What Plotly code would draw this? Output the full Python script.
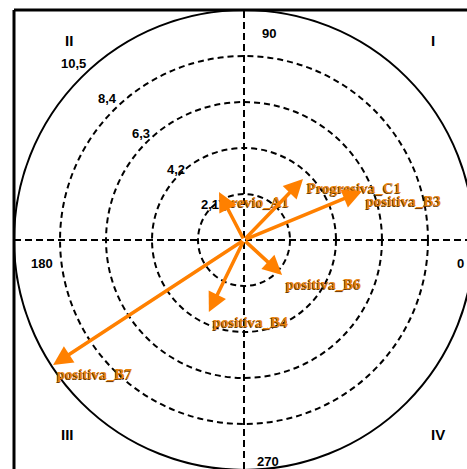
import numpy as np
import plotly.graph_objects as go

# Vector data: magnitude and direction (degrees, counter-clockwise from 0)
vector_names = ["previo_A1", "Progresiva_C1", "positiva_B3", "positiva_B6", "positiva_B4", "positiva_B7"]
vector_magnitudes = [2.47, 3.88, 5.83, 2.36, 3.66, 10.42]
vector_angles = [117.5, 46.0, 22.5, 317.4, 244.0, 213.2]

# Radial rings and their labels
ring_values = [2.1, 4.2, 6.3, 8.4, 10.5]
ring_labels = ["2,1", "4,2", "6,3", "8,4", "10,5"]

# Direction and quadrant labels
angle_labels = ["0", "90", "180", "270"]
quadrant_labels = ["I", "II", "III", "IV"]

W, H = 467, 469
L, T = 14, 10
CX, CY = 244, 240          # pixel position of the pole
SCALE = 21.9               # pixels per unit

x_range = [-(CX - L) / SCALE, (W - CX) / SCALE]
y_range = [-(H - CY) / SCALE, (CY - T) / SCALE]

ORANGE = "#FF8000"
TEXT_ORANGE = "#E8820C"

fig = go.Figure()
fig.add_trace(go.Scatter(x=[0], y=[0], mode="markers", marker=dict(opacity=0), hoverinfo="skip", showlegend=False))

shapes = []
# dashed axes through the pole
shapes.append(dict(type="line", xref="x", yref="y", x0=x_range[0], x1=x_range[1], y0=0, y1=0,
                   line=dict(color="black", width=2, dash="7px,4px"), layer="below"))
shapes.append(dict(type="line", xref="x", yref="y", x0=0, x1=0, y0=y_range[0], y1=y_range[1],
                   line=dict(color="black", width=2, dash="7px,4px"), layer="below"))
# concentric rings
for i, r in enumerate(ring_values):
    outer = i == len(ring_values) - 1
    shapes.append(dict(type="circle", xref="x", yref="y", x0=-r, x1=r, y0=-r, y1=r,
                       line=dict(color="black", width=2, dash="solid" if outer else "6px,4px"),
                       layer="below"))
# frame (left and top edges)
shapes.append(dict(type="line", xref="paper", yref="paper", x0=0, x1=0, y0=0, y1=1,
                   line=dict(color="black", width=3)))
shapes.append(dict(type="line", xref="paper", yref="paper", x0=0, x1=1, y0=1, y1=1,
                   line=dict(color="black", width=3)))

annotations = []
num_font = dict(family="Liberation Sans", size=13, color="black", weight="bold")

# ring value labels along the upper-left diagonal
lab_ang = np.deg2rad(134)
for r, t in zip(ring_values, ring_labels):
    rr = r * 1.07
    annotations.append(dict(x=rr * np.cos(lab_ang), y=rr * np.sin(lab_ang), xref="x", yref="y",
                            text=t, showarrow=False, font=num_font, xanchor="center", yanchor="middle"))

# direction labels
dir_pos = {"90": (1.12, 9.44, "center"), "180": (-9.22, -1.07, "center"),
           "270": (1.10, -10.1, "center")}
for t in angle_labels:
    if t == "0":
        annotations.append(dict(x=x_range[1], y=-1.05, xref="x", yref="y", text=t, showarrow=False,
                                font=num_font, xanchor="right", yanchor="middle", xshift=-1))
    else:
        x, y, xa = dir_pos[t]
        annotations.append(dict(x=x, y=y, xref="x", yref="y", text=t, showarrow=False,
                                font=num_font, xanchor=xa, yanchor="middle"))

# quadrant labels
quad_pos = {"I": (8.62, 9.13), "II": (-8.0, 9.13), "III": (-8.08, -8.9), "IV": (8.86, -8.9)}
for t in quadrant_labels:
    x, y = quad_pos[t]
    annotations.append(dict(x=x, y=y, xref="x", yref="y", text=t, showarrow=False,
                            font=dict(family="Liberation Sans", size=15, color="black", weight="bold"),
                            xanchor="center", yanchor="middle"))

# vector tips
mags = np.array(vector_magnitudes)
angs = np.deg2rad(np.array(vector_angles))
tips_x = mags * np.cos(angs)
tips_y = mags * np.sin(angs)

# vector names beside the tips
for name, x, y in zip(vector_names, tips_x, tips_y):
    annotations.append(dict(x=x, y=y, xref="x", yref="y", text=name, showarrow=False,
                            xanchor="left", yanchor="middle", xshift=2, yshift=-9.5,
                            font=dict(family="Liberation Serif", size=15, color=TEXT_ORANGE,
                                      weight="bold", shadow="-1px 1px 0px #6b3a00")))

# arrows from the pole
for x, y in zip(tips_x, tips_y):
    annotations.append(dict(x=x, y=y, xref="x", yref="y", ax=0, ay=0, axref="x", ayref="y",
                            text="", showarrow=True, arrowhead=2, arrowsize=1.1, arrowwidth=3.5,
                            arrowcolor=ORANGE, standoff=0, startstandoff=0))

fig.update_layout(
    width=W, height=H,
    margin=dict(l=L, t=T, r=0, b=0, pad=0),
    paper_bgcolor="white", plot_bgcolor="white",
    xaxis=dict(range=x_range, visible=False, fixedrange=True),
    yaxis=dict(range=y_range, visible=False, fixedrange=True),
    shapes=shapes, annotations=annotations, showlegend=False,
)

fig.write_html("out.html")
